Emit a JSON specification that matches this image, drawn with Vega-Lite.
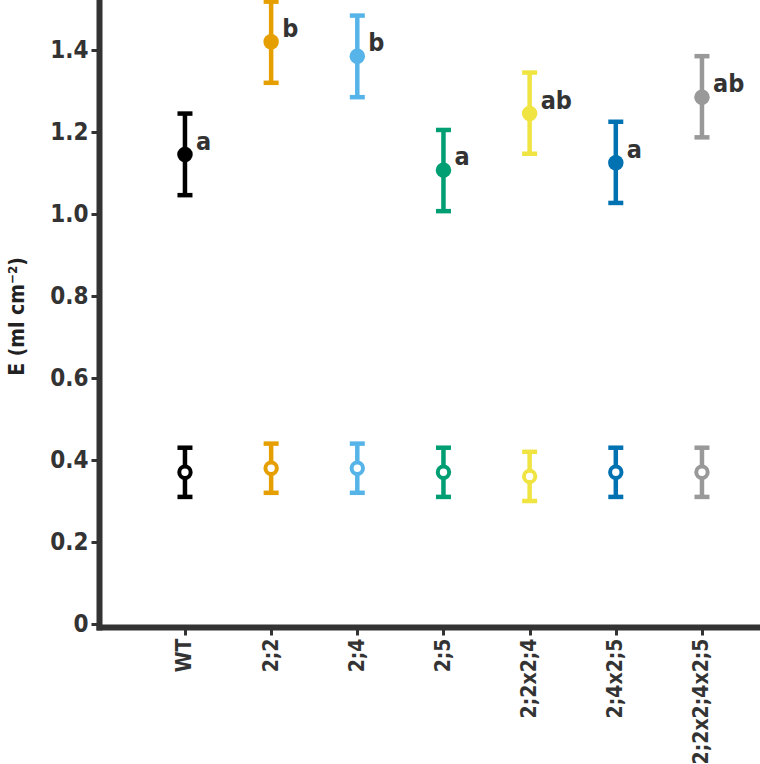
{
  "$schema": "https://vega.github.io/schema/vega-lite/v6.json",
  "width": 661,
  "height": 627,
  "autosize": {"type": "none"},
  "padding": {"left": 99, "top": 0, "right": 0, "bottom": 137},
  "config": {
    "view": {"stroke": null},
    "font": "DejaVu Sans Condensed, sans-serif",
    "axis": {
      "domainColor": "#333333",
      "domainWidth": 6,
      "domainCap": "square",
      "tickColor": "#333333",
      "tickWidth": 3,
      "tickSize": 8,
      "labelColor": "#333333",
      "labelFont": "DejaVu Sans Condensed, sans-serif",
      "labelFontWeight": "bold",
      "labelPadding": 3,
      "grid": false,
      "titleFont": "DejaVu Sans Condensed, sans-serif",
      "titleFontWeight": "bold",
      "titleColor": "#222222"
    },
    "axisY": {
      "labelFontSize": 24,
      "titleFontSize": 21,
      "titleAngle": -90,
      "titleX": -82,
      "titleY": 316,
      "titleAlign": "center",
      "titleBaseline": "middle"
    },
    "axisX": {
      "labelFontSize": 21,
      "labelAngle": -90,
      "labelAlign": "right",
      "labelBaseline": "middle"
    }
  },
  "data": {
    "values": [
      {"genotype": "WT", "type": "filled", "mean": 1.145, "lo": 1.046, "hi": 1.245, "letter": "a"},
      {"genotype": "2;2", "type": "filled", "mean": 1.42, "lo": 1.32, "hi": 1.518, "letter": "b"},
      {"genotype": "2;4", "type": "filled", "mean": 1.385, "lo": 1.285, "hi": 1.484, "letter": "b"},
      {"genotype": "2;5", "type": "filled", "mean": 1.107, "lo": 1.007, "hi": 1.205, "letter": "a"},
      {"genotype": "2;2x2;4", "type": "filled", "mean": 1.245, "lo": 1.147, "hi": 1.345, "letter": "ab"},
      {"genotype": "2;4x2;5", "type": "filled", "mean": 1.125, "lo": 1.027, "hi": 1.225, "letter": "a"},
      {"genotype": "2;2x2;4x2;5", "type": "filled", "mean": 1.285, "lo": 1.187, "hi": 1.385, "letter": "ab"},
      {"genotype": "WT", "type": "open", "mean": 0.37, "lo": 0.31, "hi": 0.43, "letter": ""},
      {"genotype": "2;2", "type": "open", "mean": 0.38, "lo": 0.32, "hi": 0.44, "letter": ""},
      {"genotype": "2;4", "type": "open", "mean": 0.38, "lo": 0.32, "hi": 0.44, "letter": ""},
      {"genotype": "2;5", "type": "open", "mean": 0.37, "lo": 0.31, "hi": 0.43, "letter": ""},
      {"genotype": "2;2x2;4", "type": "open", "mean": 0.36, "lo": 0.30, "hi": 0.42, "letter": ""},
      {"genotype": "2;4x2;5", "type": "open", "mean": 0.37, "lo": 0.31, "hi": 0.43, "letter": ""},
      {"genotype": "2;2x2;4x2;5", "type": "open", "mean": 0.37, "lo": 0.31, "hi": 0.43, "letter": ""}
    ]
  },
  "encoding": {
    "x": {
      "field": "genotype",
      "type": "nominal",
      "sort": ["WT", "2;2", "2;4", "2;5", "2;2x2;4", "2;4x2;5", "2;2x2;4x2;5"],
      "scale": {"type": "point", "padding": 0.8356, "align": 0.597},
      "axis": {"title": null}
    },
    "color": {
      "field": "genotype",
      "type": "nominal",
      "scale": {
        "domain": ["WT", "2;2", "2;4", "2;5", "2;2x2;4", "2;4x2;5", "2;2x2;4x2;5"],
        "range": ["#000000", "#E69F00", "#56B4E9", "#009E73", "#F0E442", "#0072B2", "#999999"]
      },
      "legend": null
    }
  },
  "layer": [
    {
      "mark": {"type": "rule", "strokeWidth": 4.5},
      "encoding": {
        "y": {
          "field": "lo",
          "type": "quantitative",
          "scale": {"domain": [-0.0073, 1.522], "nice": false, "zero": false},
          "axis": {
            "title": "E (ml cm⁻²)",
            "values": [0, 0.2, 0.4, 0.6, 0.8, 1.0, 1.2, 1.4],
            "labelExpr": "datum.value == 0 ? '0' : format(datum.value, '.1f')"
          }
        },
        "y2": {"field": "hi"}
      }
    },
    {
      "mark": {"type": "tick", "size": 15, "thickness": 4.5, "opacity": 1},
      "encoding": {"y": {"field": "lo", "type": "quantitative", "title": "E (ml cm⁻²)"}}
    },
    {
      "mark": {"type": "tick", "size": 15, "thickness": 4.5, "opacity": 1},
      "encoding": {"y": {"field": "hi", "type": "quantitative", "title": "E (ml cm⁻²)"}}
    },
    {
      "transform": [{"filter": "datum.type === 'filled'"}],
      "mark": {"type": "point", "shape": "circle", "filled": true, "size": 240, "opacity": 1},
      "encoding": {"y": {"field": "mean", "type": "quantitative", "title": "E (ml cm⁻²)"}}
    },
    {
      "transform": [{"filter": "datum.type === 'open'"}],
      "mark": {"type": "point", "shape": "circle", "filled": false, "fill": "#ffffff", "fillOpacity": 1, "strokeWidth": 4, "size": 130, "opacity": 1},
      "encoding": {"y": {"field": "mean", "type": "quantitative", "title": "E (ml cm⁻²)"}}
    },
    {
      "transform": [{"filter": "datum.type === 'filled'"}],
      "mark": {"type": "text", "align": "left", "baseline": "alphabetic", "dx": 11, "dy": -5, "fontSize": 25, "fontWeight": "bold", "font": "DejaVu Sans Condensed, sans-serif"},
      "encoding": {
        "y": {"field": "mean", "type": "quantitative", "title": "E (ml cm⁻²)"},
        "text": {"field": "letter"},
        "color": {"value": "#333333"}
      }
    }
  ]
}
